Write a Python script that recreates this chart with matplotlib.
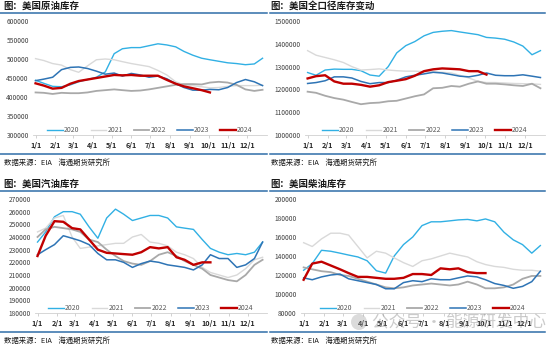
import numpy as np
import pandas as pd
import matplotlib
matplotlib.use("Agg")
import matplotlib.pyplot as plt
from matplotlib.lines import Line2D
from matplotlib.patches import Ellipse

plt.rcParams['font.family'] = ['Noto Sans CJK SC', 'DejaVu Sans']

# Biweekly sample dates (same for every year) and month tick labels
sample_dates = ['1/1', '1/14', '1/28', '2/11', '2/25', '3/10', '3/24', '4/7', '4/21',
                '5/5', '5/18', '6/1', '6/15', '6/29', '7/13', '7/27', '8/10', '8/23',
                '9/6', '9/20', '10/3', '10/17', '10/31', '11/14', '11/28', '12/12', '12/25']
month_labels = ['1/1', '2/1', '3/1', '4/1', '5/1', '6/1', '7/1', '8/1', '9/1',
                '10/1', '11/1', '12/1']
years = [2020, 2021, 2022, 2023, 2024]

# US crude oil stocks (thousand barrels)
crude = {
    2020: [444000, 436000, 428000, 427000, 432000, 440000, 446000, 452000, 466000, 514000,
           527000, 530000, 530000, 535000, 540000, 537000, 532000, 520000, 510000, 502000,
           498000, 494000, 490000, 488000, 485000, 487000, 502000],
    2021: [501000, 496000, 488000, 484000, 472000, 465000, 482000, 498000, 500000, 498000,
           493000, 488000, 484000, 480000, 470000, 458000, 440000, 432000, 430000, 427000,
           424000, 425000, 428000, 430000, 430000, 430000, 431000],
    2022: [412000, 411000, 408000, 411000, 410000, 410000, 412000, 416000, 418000, 420000,
           418000, 416000, 417000, 420000, 424000, 428000, 432000, 434000, 434000, 433000,
           438000, 440000, 438000, 432000, 420000, 416000, 419000],
    2023: [443000, 447000, 452000, 472000, 478000, 479000, 475000, 468000, 460000, 463000,
           455000, 462000, 458000, 452000, 455000, 448000, 435000, 425000, 418000, 418000,
           420000, 419000, 425000, 438000, 446000, 440000, 430000],
    2024: [436000, 430000, 422000, 424000, 435000, 442000, 446000, 450000, 454000, 458000,
           457000, 458000, 456000, 456000, 456000, 445000, 435000, 428000, 423000, 418000,
           412000],
}

# US total stocks incl. SPR and products
total = {
    2020: [1274000, 1262000, 1285000, 1289000, 1288000, 1288000, 1282000, 1263000, 1258000,
           1300000, 1360000, 1392000, 1410000, 1435000, 1450000, 1455000, 1458000, 1452000,
           1446000, 1440000, 1428000, 1425000, 1420000, 1408000, 1390000, 1352000, 1370000],
    2021: [1370000, 1350000, 1340000, 1330000, 1318000, 1300000, 1285000, 1287000, 1290000,
           1285000, 1282000, 1280000, 1280000, 1278000, 1278000, 1275000, 1272000, 1262000,
           1250000, 1235000, 1230000, 1230000, 1228000, 1226000, 1225000, 1224000, 1222000],
    2022: [1190000, 1185000, 1172000, 1162000, 1155000, 1145000, 1135000, 1140000, 1142000,
           1148000, 1150000, 1160000, 1170000, 1178000, 1205000, 1207000, 1215000, 1212000,
           1225000, 1235000, 1225000, 1225000, 1222000, 1218000, 1215000, 1225000, 1205000],
    2023: [1226000, 1230000, 1238000, 1255000, 1255000, 1250000, 1235000, 1225000, 1230000,
           1230000, 1240000, 1255000, 1262000, 1268000, 1275000, 1272000, 1265000, 1258000,
           1255000, 1262000, 1272000, 1262000, 1260000, 1260000, 1264000, 1258000, 1252000],
    2024: [1248000, 1258000, 1262000, 1235000, 1225000, 1225000, 1220000, 1212000, 1218000,
           1232000, 1238000, 1245000, 1260000, 1280000, 1288000, 1292000, 1290000, 1288000,
           1280000, 1280000, 1265000],
}

# US gasoline stocks
gasoline = {
    2020: [236000, 244000, 256000, 260000, 260000, 258000, 248000, 239000, 255000, 262000,
           258000, 253000, 255000, 257000, 257000, 255000, 248000, 247000, 246000, 238000,
           231000, 228000, 226000, 227000, 226000, 228000, 236000],
    2021: [244000, 247000, 255000, 257000, 240000, 231000, 232000, 233000, 234000, 235000,
           235000, 240000, 242000, 236000, 235000, 233000, 228000, 226000, 223000, 216000,
           212000, 210000, 208000, 210000, 215000, 222000, 224000],
    2022: [240000, 246000, 248000, 247000, 246000, 244000, 238000, 236000, 230000, 225000,
           221000, 219000, 218000, 221000, 226000, 228000, 225000, 221000, 218000, 215000,
           210000, 208000, 206000, 205000, 210000, 218000, 222000],
    2023: [226000, 230000, 234000, 241000, 239000, 237000, 234000, 227000, 222000, 222000,
           220000, 216000, 219000, 221000, 220000, 218000, 217000, 216000, 214000, 218000,
           226000, 223000, 223000, 216000, 218000, 223000, 236000],
    2024: [225000, 241000, 252500, 252000, 247000, 246000, 238000, 230000, 227500, 227000,
           226500, 226000, 228000, 232000, 231000, 232000, 224000, 222000, 218000, 220000,
           220000],
}

# US distillate stocks
distillate = {
    2020: [125000, 132000, 146000, 145000, 143000, 141000, 139000, 135000, 124500, 122000,
           140000, 152000, 160000, 172000, 176000, 176000, 177000, 178000, 178500, 177000,
           179000, 176000, 165000, 157000, 152000, 143000, 151000],
    2021: [154000, 150000, 158000, 164000, 164000, 162000, 150000, 138000, 145000, 143000,
           138000, 133000, 129000, 135000, 137000, 140000, 143000, 141000, 139000, 134000,
           131000, 129000, 128000, 126000, 125000, 125000, 124000],
    2022: [128000, 126000, 124000, 123000, 120000, 119000, 116000, 113000, 110000, 107000,
           106000, 107000, 109000, 110000, 111000, 110000, 109000, 110000, 113000, 110000,
           106000, 106000, 107000, 110000, 116000, 119000, 119000],
    2023: [117000, 115000, 118000, 120000, 121000, 116000, 114000, 112000, 110000, 105500,
           105500, 112000, 114000, 113000, 116000, 115000, 115000, 117000, 119000, 118000,
           115000, 111000, 109000, 106000, 108000, 113000, 124000],
    2024: [115000, 132000, 134000, 130000, 126000, 122000, 118000, 118000, 117000, 116000,
           116000, 117000, 121000, 121000, 120000, 127000, 126000, 127000, 123000, 122000,
           122000],
}

colors = {2020: '#31b0e4', 2021: '#d9d9d9', 2022: '#a9a9a9', 2023: '#2e74b5', 2024: '#c00000'}
widths = {2020: 1.0, 2021: 1.0, 2022: 1.3, 2023: 1.1, 2024: 1.7}
rule_color = '#2f6ea8'


def day_of_year(label):
    return pd.to_datetime('2021/' + label).dayofyear - 1


sample_x = np.array([day_of_year(d) for d in sample_dates])
month_x = [day_of_year(m) for m in month_labels]

W, H = 550, 346
fig = plt.figure(figsize=(W / 100, H / 100), dpi=100)


def fx(px):
    return px / W


def fy(py):
    return 1 - py / H


def hline(x0, x1, y):
    fig.add_artist(Line2D([fx(x0), fx(x1)], [fy(y), fy(y)], transform=fig.transFigure,
                          color=rule_color, lw=1.1))


# title, data, y range, y step, axes box (left, top, right, bottom px), rule span
panels = [
    ('图：美国原油库存', crude, (300000, 600000), 50000, (33, 21, 267, 135), (0, 267), 3),
    ('图：美国全口径库存变动', total, (1000000, 1500000), 100000, (305, 21, 545, 135), (270, 545), 270),
    ('图：美国汽油库存', gasoline, (180000, 270000), 10000, (35, 199, 267, 313), (0, 267), 3),
    ('图：美国柴油库存', distillate, (80000, 200000), 20000, (301, 199, 545, 313), (270, 545), 270),
]

for row, (title, data, ylim, step, box, rule, tx) in enumerate(panels):
    off = 0 if row < 2 else 178
    left, top, right, bottom = box
    ax = fig.add_axes([fx(left), fy(bottom), fx(right) - fx(left), fy(top) - fy(bottom)])

    for yr in years:
        vals = data[yr]
        ax.plot(sample_x[:len(vals)], vals, color=colors[yr], lw=widths[yr], label=str(yr),
                solid_joinstyle='round')

    ax.set_xlim(-4, 365)
    ax.set_ylim(*ylim)
    ax.set_yticks(np.arange(ylim[0], ylim[1] + 1, step))
    ax.set_yticklabels([f'{int(v)}' for v in ax.get_yticks()], fontsize=4.8, color='#404040')
    ax.set_xticks(month_x)
    ax.set_xticklabels(month_labels, fontsize=5.2, fontweight='bold', color='#262626')
    ax.tick_params(axis='y', length=0, pad=3)
    ax.tick_params(axis='x', length=2, width=0.5, color='#bfbfbf', pad=3)
    for side in ('top', 'right', 'left'):
        ax.spines[side].set_visible(False)
    ax.spines['bottom'].set_color('#d0d0d0')
    ax.spines['bottom'].set_linewidth(0.6)

    leg = ax.legend(loc='lower center', ncol=5, frameon=False, fontsize=5,
                    handlelength=2.2, handletextpad=0.2, columnspacing=1.6,
                    bbox_to_anchor=(0.5, -0.03), borderaxespad=0.2)
    for t in leg.get_texts():
        t.set_color('#595959')

    # header, rules and source line
    fig.text(fx(tx), fy(5.5 + off), title, fontsize=6.8, fontweight='bold',
             color='#1a1a1a', va='center', ha='left')
    hline(rule[0], rule[1], 12.5 + off)
    hline(rule[0], rule[1], 154 + off)
    fig.text(fx(tx + 1), fy(163 + off), '数据来源：EIA    海通期货研究所', fontsize=5.3,
             color='#1a1a1a', va='center', ha='left')

# watermark over the distillate chart
fig.add_artist(Ellipse((fx(359), fy(322)), 16 / W, 16 / H, transform=fig.transFigure,
                       color='#9a9a9a', alpha=0.35, lw=0))
fig.text(fx(372), fy(322), '公众号 · 能源研发中心', fontsize=12, color='#8c8c8c',
         alpha=0.45, va='center', ha='left')

fig.savefig('out.png', dpi=100)
